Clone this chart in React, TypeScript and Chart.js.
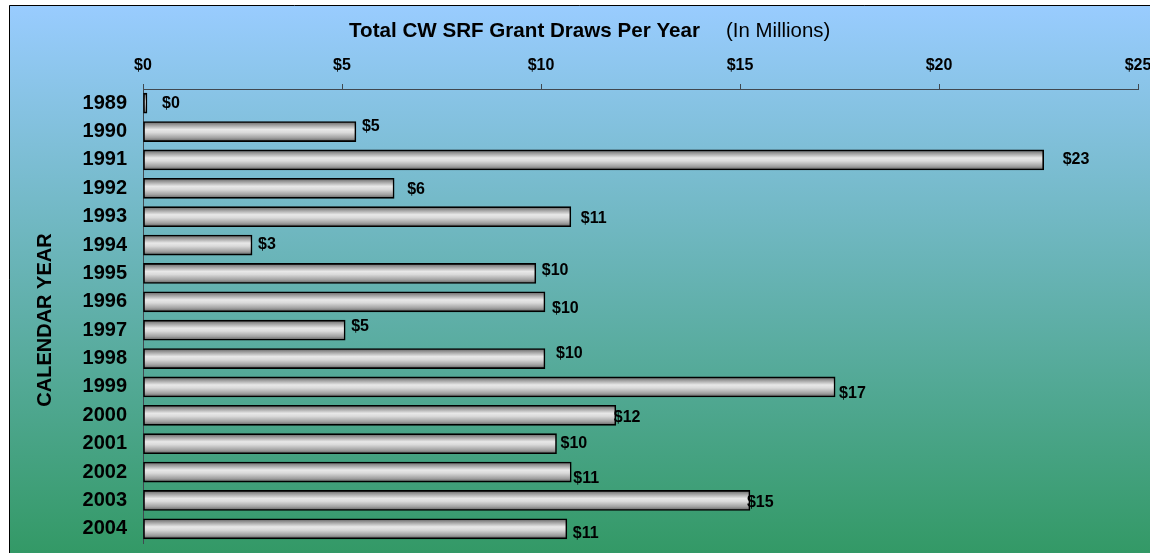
import React, { useEffect, useRef } from "react";
import { Chart, registerables } from "chart.js";

Chart.register(...registerables);

const YEARS = ["1989","1990","1991","1992","1993","1994","1995","1996","1997","1998","1999","2000","2001","2002","2003","2004"];
const DRAWS = [0.1, 5.35, 22.63, 6.31, 10.75, 2.74, 9.87, 10.1, 5.08, 10.1, 17.39, 11.88, 10.39, 10.76, 15.25, 10.65];
const X_MIN = 0;
const X_MAX = 25;
const X_STEP = 5;
const TITLE = "Total CW SRF Grant Draws Per Year";
const SUBTITLE = "(In Millions)";
const Y_TITLE = "CALENDAR YEAR";

// label placement (style): [dx from bar end, dy from bar centre]
const LABEL_OFFSETS: [number, number][] = [
  [15, 0], [6, -5], [19, 0], [13, 1.5], [10, 2], [6, 0], [6, -2.5], [7, 7],
  [6, -3.7], [11, -4.5], [4, 7], [-2, 2], [4, 0], [2, 7], [-3, 2], [6, 4.5],
];

const FONT = "'Liberation Sans', Arial, sans-serif";

const decorPlugin = {
  id: "decor",
  beforeDraw(chart: any) {
    const { ctx, width, height } = chart;
    ctx.save();
    const g = ctx.createLinearGradient(0, 5, 0, height);
    g.addColorStop(0, "#99ccff");
    g.addColorStop(1, "#339966");
    ctx.fillStyle = g;
    ctx.fillRect(9, 5, width - 9, height - 5);
    ctx.strokeStyle = "#000";
    ctx.lineWidth = 1;
    ctx.beginPath();
    ctx.moveTo(9.5, height);
    ctx.lineTo(9.5, 5.5);
    ctx.lineTo(width, 5.5);
    ctx.stroke();
    // title
    ctx.fillStyle = "#000";
    ctx.textBaseline = "alphabetic";
    ctx.textAlign = "left";
    ctx.font = `bold 20.6px ${FONT}`;
    ctx.fillText(TITLE, 349, 37);
    ctx.font = `20.4px ${FONT}`;
    ctx.fillText(SUBTITLE, 726, 37);
    // y title
    ctx.translate(44, 320);
    ctx.rotate(-Math.PI / 2);
    ctx.font = `bold 20px ${FONT}`;
    ctx.textAlign = "center";
    ctx.textBaseline = "middle";
    ctx.fillText(Y_TITLE, 0, 1);
    ctx.restore();
  },
  afterDatasetsDraw(chart: any) {
    const { ctx } = chart;
    const meta = chart.getDatasetMeta(0);
    ctx.save();
    ctx.fillStyle = "#000";
    ctx.font = `bold 16px ${FONT}`;
    ctx.textAlign = "left";
    ctx.textBaseline = "middle";
    meta.data.forEach((bar: any, i: number) => {
      const v = DRAWS[i];
      const [dx, dy] = LABEL_OFFSETS[i] || [6, 0];
      ctx.fillText("$" + Math.round(v), bar.x + dx, bar.y + dy);
    });
    ctx.restore();
  },
};

export default function App() {
  const ref = useRef<HTMLCanvasElement | null>(null);
  useEffect(() => {
    document.body.style.margin = "0";
    if (!ref.current) return;
    const chart = new Chart(ref.current, {
      type: "bar",
      data: {
        labels: YEARS,
        datasets: [
          {
            data: DRAWS,
            borderColor: "#000",
            borderWidth: 1.6,
            borderSkipped: false,
            barThickness: 20,
            backgroundColor: (c: any) => {
              const chart = c.chart;
              const ys = chart.scales && chart.scales.y;
              if (!ys || c.dataIndex === undefined) return "#cccccc";
              const cy = ys.getPixelForValue(c.dataIndex);
              if (!Number.isFinite(cy)) return "#cccccc";
              const g = chart.ctx.createLinearGradient(0, cy - 10, 0, cy + 10);
              g.addColorStop(0, "#606060");
              g.addColorStop(0.12, "#8c8c8c");
              g.addColorStop(0.4, "#e8e8e8");
              g.addColorStop(0.55, "#dadada");
              g.addColorStop(0.82, "#a0a0a0");
              g.addColorStop(1, "#5e5e5e");
              return g;
            },
          },
        ],
      },
      plugins: [decorPlugin],
      options: {
        indexAxis: "y",
        animation: false,
        responsive: false,
        devicePixelRatio: 1,
        layout: { padding: { left: 0, top: 0, right: 12, bottom: 10 } },
        plugins: {
          legend: { display: false },
          tooltip: { enabled: false },
          title: { display: false },
        },
        scales: {
          x: {
            position: "top",
            min: X_MIN,
            max: X_MAX,
            afterFit: (s: any) => {
              s.height = 89;
              s.paddingLeft = 0;
              s.paddingRight = 0;
              s.paddingTop = 0;
              s.paddingBottom = 0;
            },
            ticks: {
              stepSize: X_STEP,
              color: "#000",
              padding: 9,
              font: { family: FONT, size: 16, weight: "bold" },
              callback: (v: any) => "$" + v,
            },
            grid: {
              display: true,
              drawOnChartArea: false,
              drawTicks: true,
              tickLength: 5,
              color: "#404850",
            },
            border: { display: true, color: "#404850", width: 1 },
          },
          y: {
            afterFit: (s: any) => {
              s.width = 143;
              s.paddingLeft = 0;
              s.paddingRight = 0;
              s.paddingTop = 0;
              s.paddingBottom = 0;
            },
            ticks: {
              color: "#000",
              padding: 16,
              font: { family: FONT, size: 20, weight: "bold" },
            },
            grid: { display: false, drawTicks: false },
            border: { display: true, color: "#404850", width: 1 },
          },
        },
      } as any,
    });
    return () => chart.destroy();
  }, []);
  return <canvas ref={ref} width={1150} height={553} style={{ display: "block" }} />;
}
